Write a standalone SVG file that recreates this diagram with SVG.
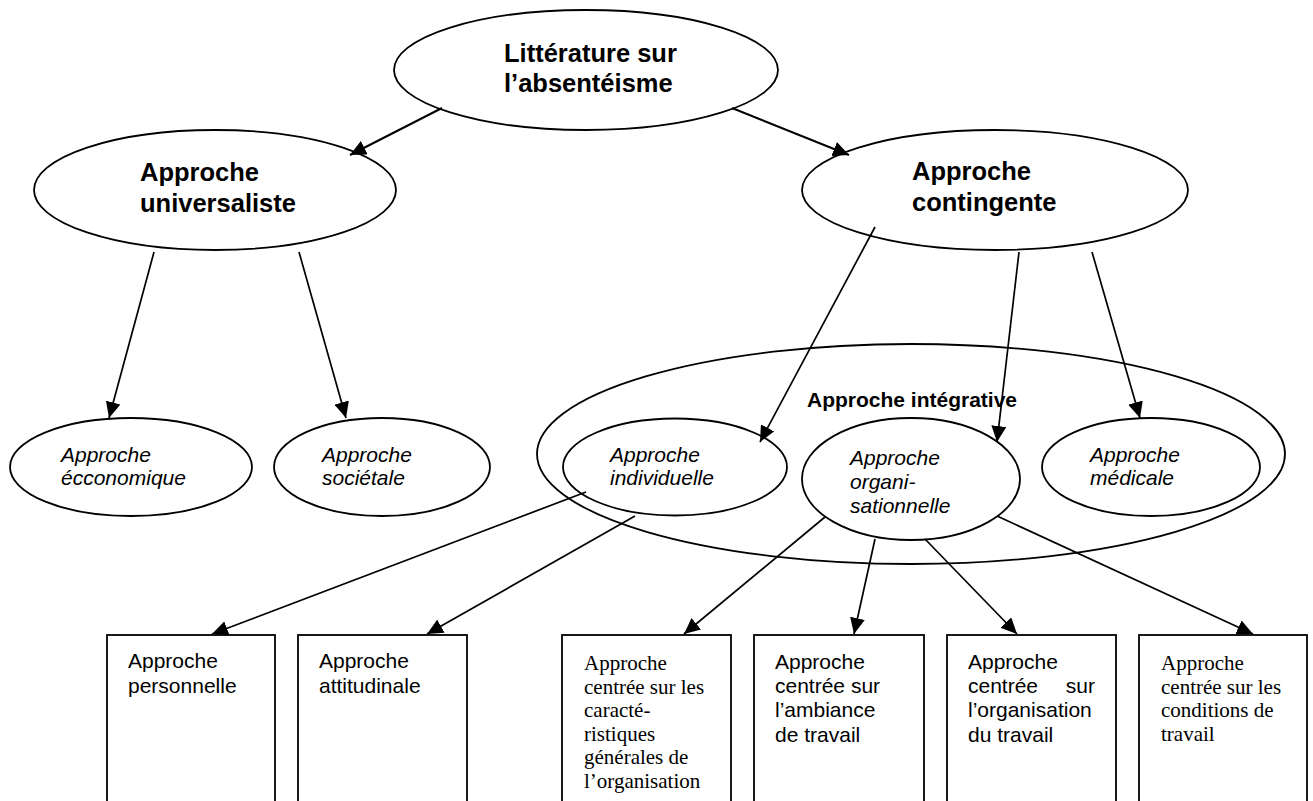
<svg xmlns="http://www.w3.org/2000/svg" width="1313" height="801" viewBox="0 0 1313 801">
<style>
.shape{fill:#fff;stroke:#000;stroke-width:1.8}
.conn line{stroke:#000;stroke-width:1.7;marker-end:url(#ah)}
.title{font-family:"Liberation Sans",Arial,sans-serif;font-weight:bold;font-size:25.5px;fill:#000}
.ital{font-family:"Liberation Sans",Arial,sans-serif;font-style:italic;font-size:21px;fill:#000}
.lab{font-family:"Liberation Sans",Arial,sans-serif;font-weight:bold;font-size:21px;fill:#000}
.sans{font-family:"Liberation Sans",Arial,sans-serif;font-size:21px;fill:#000}
.serif{font-family:"Liberation Serif","Times New Roman",serif;font-size:21px;fill:#000}
</style>
<defs>
<marker id="ah" markerUnits="userSpaceOnUse" markerWidth="16" markerHeight="15" refX="16" refY="7.5" orient="auto" viewBox="0 0 16 15">
<path d="M0,0 L16,7.5 L0,15 z" fill="#000"/>
</marker>
</defs>
<rect width="1313" height="801" fill="#fff"/>

<g id="integrative">
<ellipse class="shape" cx="911" cy="454" rx="374" ry="110"/>
<text class="lab" x="807" y="407">Approche intégrative</text>
</g>

<g id="litterature">
<ellipse class="shape" cx="586" cy="70" rx="192" ry="60"/>
<text class="title" x="504" y="62">Littérature sur</text>
<text class="title" x="504" y="92">l’absentéisme</text>
</g>

<g id="universaliste">
<ellipse class="shape" cx="215" cy="190" rx="181" ry="60"/>
<text class="title" x="140" y="181">Approche</text>
<text class="title" x="140" y="212">universaliste</text>
</g>

<g id="contingente">
<ellipse class="shape" cx="995" cy="190" rx="193" ry="60"/>
<text class="title" x="912" y="180">Approche</text>
<text class="title" x="912" y="211">contingente</text>
</g>

<g id="economique">
<ellipse class="shape" cx="131" cy="467" rx="121" ry="49"/>
<text class="ital" x="61" y="462">Approche</text>
<text class="ital" x="61" y="485">écconomique</text>
</g>

<g id="societale">
<ellipse class="shape" cx="382" cy="467" rx="108" ry="49"/>
<text class="ital" x="322" y="462">Approche</text>
<text class="ital" x="322" y="485">sociétale</text>
</g>

<g id="individuelle">
<ellipse class="shape" cx="675" cy="467" rx="112" ry="48.5"/>
<text class="ital" x="610" y="462">Approche</text>
<text class="ital" x="610" y="485">individuelle</text>
</g>

<g id="organisationnelle">
<ellipse class="shape" cx="911" cy="479" rx="109" ry="61"/>
<text class="ital" x="850" y="465">Approche</text>
<text class="ital" x="850" y="489">organi-</text>
<text class="ital" x="850" y="513">sationnelle</text>
</g>

<g id="medicale">
<ellipse class="shape" cx="1151" cy="467" rx="109" ry="49"/>
<text class="ital" x="1090" y="462">Approche</text>
<text class="ital" x="1090" y="485">médicale</text>
</g>

<g id="personnelle">
<rect class="shape" x="107" y="635" width="168" height="200"/>
<text class="sans" x="128" y="668">Approche</text>
<text class="sans" x="128" y="692.5">personnelle</text>
</g>

<g id="attitudinale">
<rect class="shape" x="298" y="635" width="169" height="200"/>
<text class="sans" x="319" y="668">Approche</text>
<text class="sans" x="319" y="692.5">attitudinale</text>
</g>

<g id="caracteristiques">
<rect class="shape" x="562" y="635" width="169" height="200"/>
<text class="serif" x="584" y="670">Approche</text>
<text class="serif" x="584" y="693.5">centrée sur les</text>
<text class="serif" x="584" y="717">caracté-</text>
<text class="serif" x="584" y="740.5">ristiques</text>
<text class="serif" x="584" y="764">générales de</text>
<text class="serif" x="584" y="787.5">l’organisation</text>
</g>

<g id="ambiance">
<rect class="shape" x="754" y="635" width="170" height="200"/>
<text class="sans" x="775" y="669">Approche</text>
<text class="sans" x="775" y="693">centrée sur</text>
<text class="sans" x="775" y="717">l’ambiance</text>
<text class="sans" x="775" y="741.5">de travail</text>
</g>

<g id="organisation-travail">
<rect class="shape" x="947" y="635" width="169" height="200"/>
<text class="sans" x="968" y="669">Approche</text>
<text class="sans" x="968" y="693">centrée</text>
<text class="sans" x="1095" y="693" text-anchor="end">sur</text>
<text class="sans" x="968" y="717">l’organisation</text>
<text class="sans" x="968" y="741.5">du travail</text>
</g>

<g id="conditions">
<rect class="shape" x="1139" y="635" width="168" height="200"/>
<text class="serif" x="1161" y="670">Approche</text>
<text class="serif" x="1161" y="693.5">centrée sur  les</text>
<text class="serif" x="1161" y="717">conditions de</text>
<text class="serif" x="1161" y="740.5">travail</text>
</g>

<g id="connectors" class="conn">
<line x1="442" y1="108" x2="350" y2="155" style="stroke-width:2"/>
<line x1="732" y1="108" x2="849" y2="155" style="stroke-width:2"/>
<line x1="154" y1="252" x2="109" y2="418"/>
<line x1="299" y1="252" x2="346" y2="418"/>
<line x1="875" y1="227" x2="760" y2="442"/>
<line x1="1019" y1="252" x2="997" y2="442"/>
<line x1="1092" y1="252" x2="1140" y2="418"/>
<line x1="586" y1="492" x2="212" y2="634"/>
<line x1="635" y1="516" x2="427" y2="634"/>
<line x1="825" y1="517" x2="684" y2="634"/>
<line x1="875" y1="539" x2="854" y2="634"/>
<line x1="925" y1="539" x2="1017" y2="634"/>
<line x1="997" y1="516" x2="1253" y2="634"/>
</g>
</svg>
